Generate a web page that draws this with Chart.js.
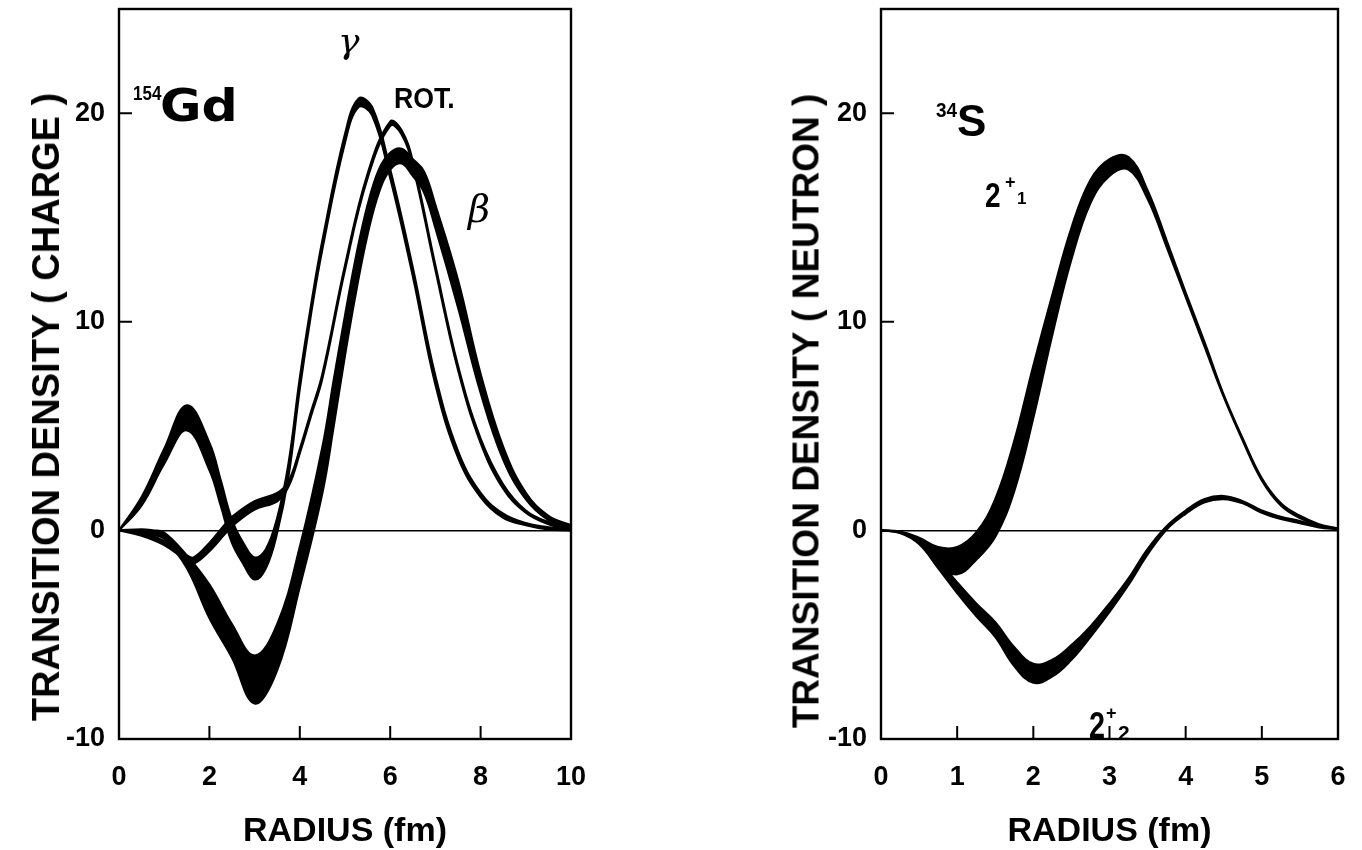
<!DOCTYPE html>
<html>
<head>
<meta charset="utf-8">
<script src="https://cdn.jsdelivr.net/npm/chart.js@4.4.1/dist/chart.umd.min.js"></script>
<style>
  body { margin: 0; background: #fff; width: 1362px; height: 850px; overflow: hidden; position: relative; }
  canvas { position: absolute; top: 0; }
  #gdChart { left: 0; }
  #sChart { left: 700px; }
  .lbl { position: absolute; color: #000; line-height: 1; white-space: nowrap;
         font-family: "Liberation Sans", Arial, sans-serif; font-weight: bold; transform-origin: left top; }
  .greek { font-family: "DejaVu Serif", serif; font-style: italic; font-weight: normal; }
  .ytitle { position: absolute; color: #000; line-height: 1; white-space: nowrap;
            font-family: "Liberation Sans", Arial, sans-serif; font-weight: bold; font-size: 38px;
            transform: translate(-50%, -50%) rotate(-90deg); }
</style>
</head>
<body>
<canvas id="gdChart" width="660" height="850"></canvas>
<canvas id="sChart" width="662" height="850"></canvas>

<!-- axis titles along y -->
<div class="ytitle" style="left:46px;top:407px">TRANSITION DENSITY ( CHARGE )</div>
<div class="ytitle" style="left:806px;top:411px;font-size:37px">TRANSITION DENSITY ( NEUTRON )</div>

<!-- annotations -->
<div class="lbl" style="left:133px;top:83px;font-size:20px;transform:scaleX(0.85)">154</div>
<div class="lbl" style="left:160px;top:84px;font-size:44px;font-family:'DejaVu Sans';transform:scaleX(1.15)">Gd</div>
<div class="lbl greek" style="left:338px;top:23px;font-size:36px">γ</div>
<div class="lbl" style="left:394px;top:84px;font-size:29px;transform:scaleX(0.92)">ROT.</div>
<div class="lbl greek" style="left:468px;top:190px;font-size:38px">β</div>

<div class="lbl" style="left:936px;top:99px;font-size:21px;transform:scaleX(0.9)">34</div>
<div class="lbl" style="left:957px;top:99px;font-size:44px">S</div>
<div class="lbl" style="left:985px;top:177px;font-size:35px;transform:scaleX(0.8)">2</div>
<div class="lbl" style="left:1005px;top:173px;font-size:18px">+</div>
<div class="lbl" style="left:1017px;top:190px;font-size:17px">1</div>
<div class="lbl" style="left:1089px;top:708px;font-size:36px;transform:scaleX(0.8)">2</div>
<div class="lbl" style="left:1106px;top:704px;font-size:18px">+</div>
<div class="lbl" style="left:1118px;top:722px;font-size:21px">2</div>

<script>
// ---------- 154Gd, charge transition densities ----------
const gdTicksX = [0, 2, 4, 6, 8, 10];
const gdTicksY = [-10, 0, 10, 20];

// gamma band (bump near 1.5 fm, dip near 3 fm, peak near 5.3 fm)
const gdGammaR  = [0, 0.5, 1, 1.5, 2, 2.25, 2.5, 2.75, 3, 3.25, 3.5, 3.75, 4, 4.25, 4.5, 5, 5.3, 5.6, 6, 6.5, 7, 7.5, 8, 8.5, 9, 9.5, 10];
const gdGammaHi = [0, 1.6, 3.9, 6.0, 4.2, 2.4, 0.5, -0.6, -1.3, -0.9, 0.6, 3.2, 7.3, 10.8, 13.9, 19.0, 20.7, 20.3, 17.3, 12.6, 7.4, 3.8, 1.8, 0.8, 0.35, 0.15, 0.1];
const gdGammaLo = [0, 1.2, 3.2, 4.8, 2.9, 1.2, -0.6, -1.6, -2.35, -1.8, -0.1, 2.6, 6.8, 10.4, 13.5, 18.6, 20.3, 19.9, 16.9, 12.2, 7.0, 3.5, 1.6, 0.6, 0.25, 0.05, 0];

// rotational band (small dip, shoulder, peak near 6 fm)
const gdRotR  = [0, 0.5, 1, 1.5, 1.65, 2, 2.33, 2.5, 3, 3.5, 3.75, 4, 4.25, 4.5, 5, 5.5, 6, 6.25, 6.5, 7, 7.5, 8, 8.5, 9, 9.5, 10];
const gdRotHi = [0, -0.1, -0.5, -1.2, -1.3, -0.6, 0.25, 0.65, 1.4, 1.8, 2.35, 3.9, 5.7, 7.5, 12.7, 17.1, 19.6, 19.2, 17.7, 12.7, 7.9, 4.4, 2.2, 0.95, 0.4, 0.15];
const gdRotLo = [0, -0.25, -0.7, -1.45, -1.6, -1.0, -0.2, 0.2, 1.0, 1.4, 2.1, 3.7, 5.5, 7.3, 12.5, 16.9, 19.4, 19.0, 17.5, 12.5, 7.7, 4.2, 2.0, 0.85, 0.3, 0.05];

// beta band (deep minimum near 3 fm, peak near 6.25 fm)
const gdBetaR  = [0, 0.5, 0.75, 1, 1.5, 2, 2.5, 3, 3.5, 4, 4.5, 4.75, 5, 5.25, 5.5, 5.75, 6, 6.25, 6.5, 6.75, 7, 7.5, 8, 8.5, 9, 9.5, 10];
const gdBetaHi = [0, 0.05, 0, -0.1, -1.2, -2.6, -4.5, -6.0, -4.5, -0.8, 4.0, 7.2, 10.3, 13.2, 15.6, 17.3, 18.1, 18.3, 17.8, 17.2, 15.6, 12.0, 7.5, 4.0, 1.8, 0.7, 0.25];
const gdBetaLo = [0, -0.05, -0.2, -0.4, -1.8, -4.2, -6.1, -8.3, -6.7, -2.7, 1.8, 5.0, 8.4, 11.5, 14.2, 16.2, 17.3, 17.6, 17.0, 16.2, 14.5, 10.7, 6.6, 3.4, 1.5, 0.5, 0.15];

// ---------- 34S, neutron transition densities ----------
const sTicksX = [0, 1, 2, 3, 4, 5, 6];
const sTicksY = [-10, 0, 10, 20];

const s21R  = [0, 0.25, 0.5, 0.75, 1, 1.25, 1.5, 1.75, 2, 2.25, 2.5, 2.75, 3, 3.25, 3.5, 3.75, 4, 4.25, 4.5, 4.75, 5, 5.25, 5.5, 5.75, 6];
const s21Hi = [0, -0.05, -0.35, -0.8, -0.8, -0.1, 1.5, 4.3, 7.9, 11.3, 14.5, 16.8, 17.8, 17.9, 16.3, 13.9, 11.4, 9.0, 6.5, 4.4, 2.5, 1.3, 0.7, 0.3, 0.1];
const s21Lo = [0, -0.1, -0.6, -1.6, -2.1, -1.4, -0.3, 1.9, 5.4, 9.4, 13.0, 15.7, 17.0, 17.3, 15.9, 13.6, 11.2, 8.8, 6.4, 4.3, 2.4, 1.2, 0.6, 0.25, 0.05];

const s22R  = [0, 0.25, 0.5, 0.75, 1, 1.25, 1.5, 1.75, 2, 2.25, 2.5, 2.75, 3, 3.25, 3.5, 3.75, 4, 4.25, 4.5, 4.75, 5, 5.25, 5.5, 5.75, 6];
const s22Hi = [0, -0.08, -0.45, -1.4, -2.5, -3.5, -4.4, -5.6, -6.4, -6.2, -5.5, -4.6, -3.5, -2.3, -0.9, 0.2, 0.95, 1.5, 1.65, 1.4, 0.95, 0.65, 0.45, 0.2, 0.1];
const s22Lo = [0, -0.12, -0.65, -1.8, -3.0, -4.1, -5.1, -6.5, -7.3, -7.0, -6.2, -5.1, -3.9, -2.6, -1.15, 0.05, 0.8, 1.35, 1.5, 1.3, 0.85, 0.55, 0.35, 0.15, 0.05];

// two line datasets, the lower one filled up to the upper one
function band(r, hi, lo) {
  return [
    { data: r.map((x, i) => ({ x: x, y: hi[i] })), fill: false },
    { data: r.map((x, i) => ({ x: x, y: lo[i] })), fill: '-1', backgroundColor: '#000' }
  ];
}

const tickFont = { family: 'Liberation Sans', weight: 'bold', size: 27 };

// frame and short inward ticks
const framePlugin = {
  id: 'frame',
  afterDatasetsDraw(chart, args, opts) {
    const { ctx, chartArea: a, scales } = chart;
    ctx.save();
    ctx.strokeStyle = '#000';
    ctx.lineWidth = 2.4;
    ctx.strokeRect(a.left, a.top, a.right - a.left, a.bottom - a.top);
    ctx.lineWidth = 2;
    ctx.beginPath();
    opts.xTicks.slice(1, -1).forEach(v => {
      const px = scales.x.getPixelForValue(v);
      ctx.moveTo(px, a.bottom);
      ctx.lineTo(px, a.bottom - 13);
    });
    opts.yTicks.filter(v => v > 0).forEach(v => {
      const py = scales.y.getPixelForValue(v);
      ctx.moveTo(a.left, py);
      ctx.lineTo(a.left + 13, py);
    });
    ctx.stroke();
    ctx.restore();
  }
};

function makeChart(id, datasets, xTicks, yTicks, axisWidth, padRight) {
  return new Chart(document.getElementById(id), {
    type: 'line',
    data: { datasets: datasets },
    plugins: [framePlugin],
    options: {
      responsive: false,
      animation: false,
      events: [],
      layout: { padding: { top: 9, right: padRight, left: 0, bottom: 0 } },
      elements: {
        point: { radius: 0 },
        line: { borderColor: '#000', borderWidth: 2.2, tension: 0.4 }
      },
      plugins: {
        legend: { display: false },
        tooltip: { enabled: false },
        frame: { xTicks: xTicks, yTicks: yTicks }
      },
      scales: {
        x: {
          type: 'linear',
          min: xTicks[0],
          max: xTicks[xTicks.length - 1],
          afterBuildTicks: s => { s.ticks = xTicks.map(v => ({ value: v })); },
          afterFit: s => { s.height = 111; },
          grid: { display: false },
          border: { display: false },
          ticks: { color: '#000', font: tickFont, padding: 14, maxRotation: 0 },
          title: {
            display: true, text: 'RADIUS (fm)', color: '#000',
            font: { family: 'Liberation Sans', weight: 'bold', size: 34 },
            padding: { top: 0, bottom: -2 }
          }
        },
        y: {
          type: 'linear',
          min: -10,
          max: 25,
          afterBuildTicks: s => { s.ticks = yTicks.map(v => ({ value: v })); },
          afterFit: s => { s.width = axisWidth; s.paddingTop = 0; s.paddingBottom = 0; },
          grid: {
            drawTicks: false,
            lineWidth: 1.6,
            color: c => (c.tick && c.tick.value === 0 ? '#000' : 'rgba(0,0,0,0)')
          },
          border: { display: false },
          ticks: { color: '#000', font: tickFont, padding: 14 }
        }
      }
    }
  });
}

makeChart('gdChart',
  [].concat(band(gdGammaR, gdGammaHi, gdGammaLo), band(gdRotR, gdRotHi, gdRotLo), band(gdBetaR, gdBetaHi, gdBetaLo)),
  gdTicksX, gdTicksY, 119, 89);

makeChart('sChart',
  [].concat(band(s21R, s21Hi, s21Lo), band(s22R, s22Hi, s22Lo)),
  sTicksX, sTicksY, 181, 24);
</script>
</body>
</html>
